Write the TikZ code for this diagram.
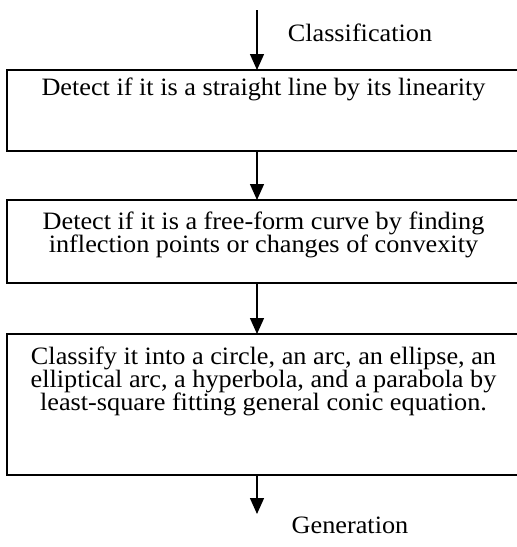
\documentclass[tikz,border=0pt]{standalone}
\usepackage{fontspec}
\setmainfont[FakeStretch=1.05]{Liberation Serif}
\usetikzlibrary{arrows.meta,calc}
\begin{document}
\begin{tikzpicture}[x=1pt,y=-1pt,
  box/.style={draw=black,line width=1.8pt,minimum width=513pt,inner sep=0pt,outer sep=0pt},
  txt/.style={font=\fontsize{25}{23}\selectfont,align=center,inner sep=0pt,anchor=north},
  lbl/.style={font=\fontsize{25}{23}\selectfont,inner sep=0pt},
  arr/.style={line width=1.4pt,-{Triangle[length=16pt,width=14pt]}}]
\useasboundingbox (0,0) rectangle (517,547);
\node[box,minimum height=81pt] (b1) at (263.5,110.5) {};
\node[box,minimum height=83pt] (b2) at (263.5,241.5) {};
\node[box,minimum height=141pt] (b3) at (263.5,404.5) {};
\node[txt] (t1) at ($(b1.north)+(0,8)$) {Detect if it is a straight line by its linearity};
\node[txt] (t2) at ($(b2.north)+(0,12)$) {Detect if it is a free-form curve by finding\\inflection points or changes of convexity};
\node[txt] (t3) at ($(b3.north)+(0,13)$) {Classify it into a circle, an arc, an ellipse, an\\elliptical arc, a hyperbola, and a parabola by\\least-square fitting general conic equation.};
\coordinate (start) at (257,10);
\coordinate (end) at (257,514);
\node[lbl] (cls) at (360,33) {Classification};
\node[lbl] (gen) at (350,525) {Generation};
\draw[arr] (start) -- (start |- b1.north);
\draw[arr] (start |- b1.south) -- (start |- b2.north);
\draw[arr] (start |- b2.south) -- (start |- b3.north);
\draw[arr] (start |- b3.south) -- (end);
\end{tikzpicture}
\end{document}
